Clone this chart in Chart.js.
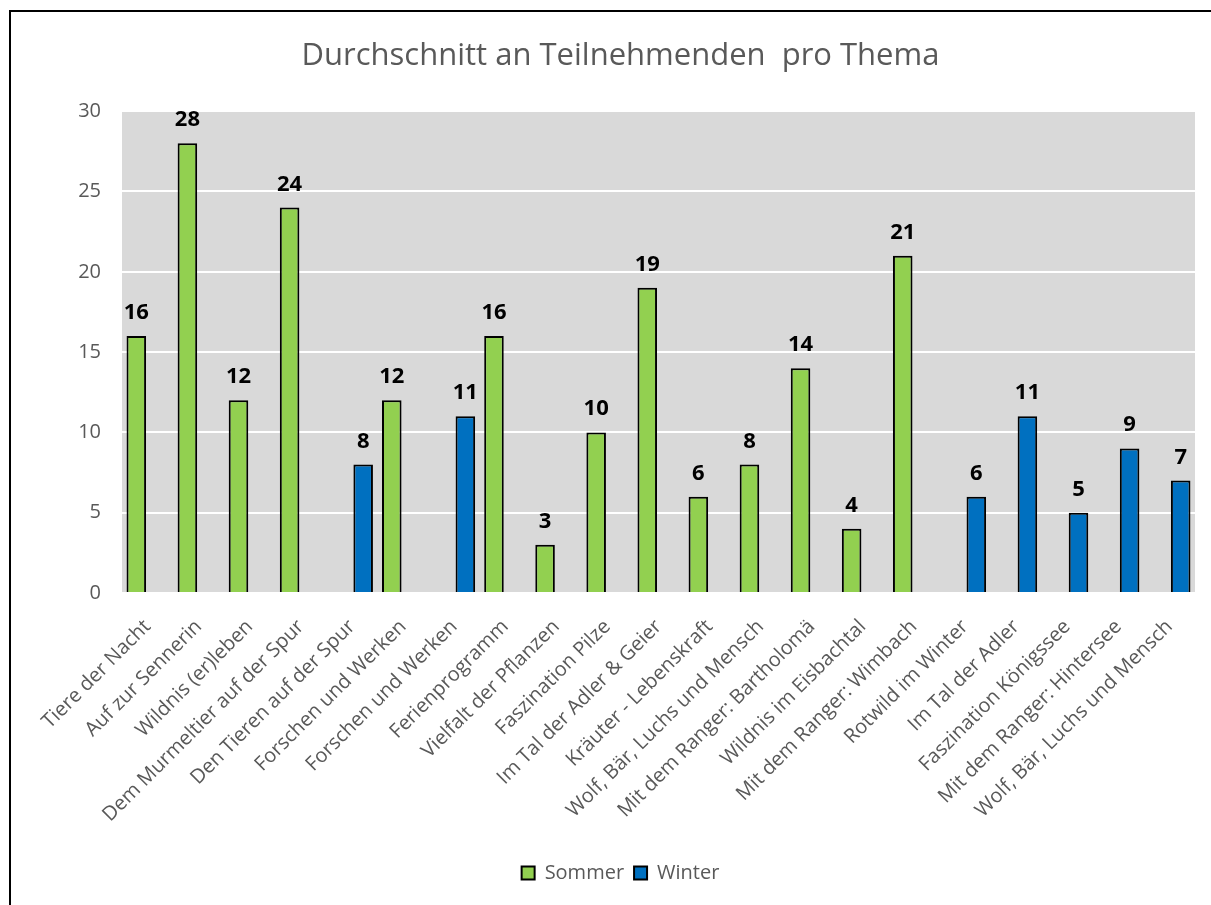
<!DOCTYPE html>
<html>
<head>
<meta charset="utf-8">
<script src="https://cdn.jsdelivr.net/npm/chart.js@4.4.1/dist/chart.umd.min.js"></script>
<style>
    html, body { margin: 0; padding: 0; overflow: hidden; background: #fff; }
    #wrap { position: relative; width: 1211px; height: 905px; }
    #rahmen { position: absolute; left: 9px; top: 10px; width: 1300px; height: 1000px; border: 2px solid #000; pointer-events: none; }
</style>
</head>
<body>
<div id="wrap">
    <canvas id="bar-chart" width="1211" height="905"></canvas>
    <div id="rahmen"></div>
</div>
<script>
// Themen (Kategorien)
var themen = [
    "Tiere der Nacht", "Auf zur Sennerin", "Wildnis (er)leben", "Dem Murmeltier auf der Spur",
    "Den Tieren auf der Spur", "Forschen und Werken", "Forschen und Werken", "Ferienprogramm",
    "Vielfalt der Pflanzen", "Faszination Pilze", "Im Tal der Adler & Geier", "Kräuter - Lebenskraft",
    "Wolf, Bär, Luchs und Mensch", "Mit dem Ranger: Bartholomä", "Wildnis im Eisbachtal",
    "Mit dem Ranger: Wimbach", "Rotwild im Winter", "Im Tal der Adler", "Faszination Königssee",
    "Mit dem Ranger: Hintersee", "Wolf, Bär, Luchs und Mensch"
];
var sommer = [16, 28, 12, 24, null, 12, null, 16, 3, 10, 19, 6, 8, 14, 4, 21, null, null, null, null, null];
var winter = [null, null, null, null, 8, null, 11, null, null, null, null, null, null, null, null, null, 6, 11, 5, 9, 7];
var yTicks = [0, 5, 10, 15, 20, 25, 30];

var grau = "#595959";
var schrift = "'Open Sans', sans-serif";

// grauer Hintergrund der Zeichenfläche
var hintergrund = {
    id: 'hintergrund',
    beforeDraw: function (chart) {
        var a = chart.chartArea;
        var ctx = chart.ctx;
        ctx.save();
        ctx.fillStyle = "#d9d9d9";
        ctx.fillRect(a.left, a.top, a.right - a.left, a.bottom - a.top);
        ctx.restore();
    }
};

// Werte über den Balken
var werte = {
    id: 'werte',
    afterDatasetsDraw: function (chart) {
        var ctx = chart.ctx;
        ctx.save();
        ctx.font = "bold 22px " + schrift;
        ctx.fillStyle = "#000";
        ctx.textAlign = "center";
        ctx.textBaseline = "alphabetic";
        chart.data.datasets.forEach(function (ds, i) {
            var meta = chart.getDatasetMeta(i);
            meta.data.forEach(function (bar, j) {
                if (ds.data[j] === null) return;
                ctx.fillText(ds.data[j], bar.x, bar.y - 17);
            });
        });
        ctx.restore();
    }
};

new Chart(document.getElementById("bar-chart"), {
    type: 'bar',
    data: {
        labels: themen,
        datasets: [
            {
                label: "Sommer",
                backgroundColor: "#92d050",
                borderColor: "#000",
                borderWidth: 2,
                data: sommer
            },
            {
                label: "Winter",
                backgroundColor: "#0070c0",
                borderColor: "#000",
                borderWidth: 2,
                data: winter
            }
        ]
    },
    options: {
        responsive: false,
        animation: false,
        categoryPercentage: 0.88,
        barPercentage: 0.87,
        layout: { padding: { left: 30, right: 0, top: 38, bottom: 12 } },
        plugins: {
            title: {
                display: true,
                text: 'Durchschnitt an Teilnehmenden  pro Thema',
                color: grau,
                font: { family: schrift, size: 31, weight: 'normal' },
                padding: { top: 0, bottom: 36 }
            },
            legend: {
                position: 'bottom',
                labels: {
                    color: grau,
                    font: { family: schrift, size: 20 },
                    boxWidth: 13,
                    boxHeight: 13,
                    padding: 10,
                    generateLabels: function (chart) {
                        var items = Chart.defaults.plugins.legend.labels.generateLabels(chart);
                        items.forEach(function (it) { it.lineWidth = 2; });
                        return items;
                    }
                }
            },
            tooltip: { enabled: false }
        },
        scales: {
            x: {
                grid: { display: false },
                border: { display: false },
                ticks: {
                    color: grau,
                    font: { family: schrift, size: 20 },
                    minRotation: 45,
                    maxRotation: 45,
                    autoSkip: false,
                    padding: 14
                },
                afterFit: function (scale) { scale.height = 260; }
            },
            y: {
                min: 0,
                max: 30,
                afterBuildTicks: function (scale) {
                    scale.ticks = yTicks.map(function (v) { return { value: v }; });
                },
                grid: { color: "#fff", lineWidth: 2, drawTicks: false },
                border: { display: false },
                ticks: {
                    color: grau,
                    font: { family: schrift, size: 20 },
                    padding: 21
                },
                afterFit: function (scale) { scale.width = 92; }
            },
            rechts: {
                position: 'right',
                grid: { display: false },
                border: { display: false },
                ticks: { display: false },
                afterFit: function (scale) { scale.width = 16; }
            }
        }
    },
    plugins: [hintergrund, werte]
});
</script>
</body>
</html>
